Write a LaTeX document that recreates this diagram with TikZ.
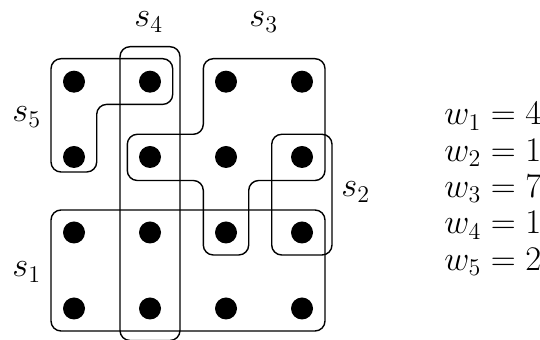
\documentclass[tikz,border=0pt]{standalone}
\begin{document}
\begin{tikzpicture}[x=0.5pt,y=-0.5pt,
  dot/.style={circle,fill=black,inner sep=0pt,minimum size=11pt},
  setline/.style={line width=0.7pt,rounded corners=5pt},
  lab/.style={inner sep=0pt,anchor=base west,font=\fontsize{17}{21}\selectfont},
  wlab/.style={inner sep=0pt,anchor=base west,font=\fontsize{16.5}{20}\selectfont}]
\useasboundingbox (0,0) rectangle (540,340);
% dots
\foreach \c/\x in {1/74,2/150,3/226,4/302}{
  \foreach \r/\y in {1/81.7,2/157,3/232.5,4/308.5}{
    \node[dot] (d\r\c) at (\x,\y) {};
  }
}
% s1
\draw[setline] (51,210) rectangle (325,331);
% s2
\draw[setline] (271.7,134.3) rectangle (332,255);
% s3
\draw[setline] (203.3,58.7) -- (325,58.7) -- (325,180.5) -- (248.7,180.5) -- (248.7,255)
  -- (203.3,255) -- (203.3,180.5) -- (127.3,180.5) -- (127.3,134.3) -- (203.3,134.3) -- cycle;
% s4
\begin{scope}
\clip (0,0) rectangle (540,340);
\draw[setline] (120,46.7) rectangle (180,340.5);
\end{scope}
% s5
\draw[setline] (51,58.7) -- (172.7,58.7) -- (172.7,104.4) -- (96.7,104.4) -- (96.7,172)
  -- (51,172) -- cycle;
% labels
\node[lab] (l4) at (134,27) {$s_4$};
\node[lab] (l3) at (249,27) {$s_3$};
\node[lab] (l5) at (12,122) {$s_5$};
\node[lab] (l1) at (12,277) {$s_1$};
\node[lab] (l2) at (341,197) {$s_2$};
\node[wlab] (w1) at (444,125) {$w_1 = 4$};
\node[wlab] (w2) at (444,161.3) {$w_2 = 1$};
\node[wlab] (w3) at (444,197.6) {$w_3 = 7$};
\node[wlab] (w4) at (444,233.9) {$w_4 = 1$};
\node[wlab] (w5) at (444,270.2) {$w_5 = 2$};
\end{tikzpicture}
\end{document}
